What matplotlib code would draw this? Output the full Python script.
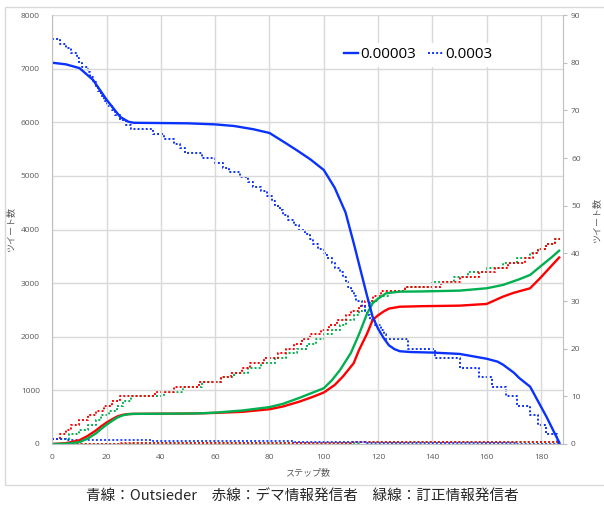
import matplotlib
matplotlib.use("Agg")
import matplotlib.pyplot as plt
from matplotlib.lines import Line2D
from matplotlib.patches import Rectangle

# ---- solid series (rate 0.00003, left axis) ----
blue_x = [0, 5, 10, 15, 20, 25, 28, 30, 40, 50, 60, 67, 74, 80, 86, 90, 95, 100, 104,
          108, 111, 114, 116, 118, 120, 122, 124, 126, 128, 132, 140, 150, 160, 164,
          166, 170, 172, 176, 182, 187]
blue_y = [7110, 7080, 7010, 6790, 6420, 6100, 6010, 5990, 5985, 5980, 5960, 5930, 5870,
          5800, 5610, 5480, 5310, 5110, 4780, 4320, 3750, 3150, 2750, 2370, 2150, 1980,
          1840, 1770, 1730, 1715, 1705, 1680, 1590, 1536, 1480, 1330, 1230, 1069, 510, 0]

red_x = [0, 5, 10, 13, 16, 18, 20, 22, 24, 26, 28, 30, 40, 50, 55, 60, 70, 80, 85, 91,
         96, 100, 104, 107, 111, 113, 116, 118, 120, 122, 124, 128, 136, 150, 160, 166,
         170, 176, 180, 184, 187]
red_y = [0, 15, 70, 150, 250, 330, 400, 460, 515, 545, 558, 562, 565, 568, 573, 580, 600,
         648, 700, 790, 880, 960, 1100, 1256, 1506, 1754, 2065, 2313, 2400, 2470, 2525,
         2560, 2570, 2580, 2612, 2748, 2820, 2904, 3110, 3330, 3494]

green_x = [0, 5, 10, 13, 16, 18, 20, 22, 24, 26, 28, 30, 40, 50, 55, 60, 70, 80, 85, 91,
           96, 100, 103, 106, 110, 113, 116, 118, 120, 123, 126, 128, 136, 150, 160, 166,
           172, 176, 180, 184, 187]
green_y = [0, 5, 35, 100, 195, 280, 360, 430, 495, 535, 555, 562, 565, 568, 573, 585,
           625, 688, 750, 860, 960, 1040, 1190, 1381, 1700, 2050, 2438, 2625, 2710, 2811,
           2830, 2841, 2845, 2860, 2904, 2966, 3072, 3153, 3320, 3485, 3619]

# ---- dotted series (rate 0.0003, right axis), values held until next change ----
bdot_x = [0, 3, 5, 7, 9, 10, 11, 13, 14, 15, 16, 17, 18, 19, 20, 22, 23, 25, 27, 29,
          37, 41, 45, 47, 49, 55, 60, 63, 65, 69, 72, 74, 77, 79, 81, 82, 84, 85, 87, 89,
          91, 93, 95, 96, 98, 100, 101, 103, 104, 106, 107, 108, 109, 110, 111, 112, 114,
          115, 116, 117, 119, 121, 122, 123, 131, 141, 150, 157, 162, 167, 171, 176, 179,
          182, 186, 187]
bdot_v = [85, 84, 83, 82, 81, 80, 79, 78, 77, 76, 75, 74, 73, 72, 71, 70, 69, 68, 67, 66,
          65, 64, 63, 62, 61, 60, 59, 58, 57, 56, 55, 54, 53, 52, 51, 50, 49, 48, 47, 46,
          45, 44, 43, 42, 41, 40, 39, 38, 37, 36, 35, 34, 33, 32, 31, 30, 29,
          28, 27, 26, 25, 24, 23, 22, 20, 18, 16, 14, 12, 10, 8, 6, 4,
          2, 0, 0]

rdot_x = [0, 3, 5, 7, 10, 13, 16, 19, 22, 25, 38, 45, 54, 62, 66, 70, 73, 78, 83, 86, 89,
          92, 95, 99, 102, 105, 108, 110, 113, 115, 118, 121, 130, 143, 150, 157, 163, 168,
          174, 177, 179, 182, 185, 187]
rdot_v = [1, 2, 3, 4, 5, 6, 7, 8, 9, 10, 11, 12, 13, 14, 15, 16, 17, 18, 19, 20, 21,
          22, 23, 24, 25, 26, 27, 28, 29, 30, 31, 32, 33, 34, 35, 36, 37, 38,
          39, 40, 41, 42, 43, 43]

gdot_x = [0, 6, 10, 13, 16, 18, 21, 24, 26, 29, 41, 48, 55, 62, 67, 72, 77, 82, 86, 90,
          94, 97, 100, 103, 106, 108, 111, 113, 115, 117, 120, 124, 130, 140, 148, 153, 160,
          166, 171, 176, 179, 182, 185, 187]
gdot_v = [1, 2, 3, 4, 5, 6, 7, 8, 9, 10, 11, 12, 13, 14, 15, 16, 17, 18, 19, 20,
          21, 22, 23, 24, 25, 26, 27, 28, 29, 30, 31, 32, 33, 34, 35, 36, 37,
          38, 39, 40, 41, 42, 43, 43]

legend_labels = ["0.00003", "0.0003"]
x_ticks = list(range(0, 181, 20))
left_ticks = list(range(0, 8001, 1000))
right_ticks = list(range(0, 91, 10))
axis_label = "ツイート数"
x_label = "ステップ数"
caption = "青線：Outsieder　赤線：デマ情報発信者　緑線：訂正情報発信者"

BLUE = "#0a32ff"
RED = "#ff0000"
GREEN = "#00b050"
GRID = "#d9d9d9"
AXIS = "#bfbfbf"
TEXT = "#595959"
NUM_FONT = ["Open Sans", "DejaVu Sans"]
JP_FONT = ["Noto Sans CJK JP", "DejaVu Sans"]

W, H = 604, 509
fig = plt.figure(figsize=(W / 100, H / 100), dpi=100)

# chart frame
fig.patches.append(Rectangle((5 / W, (H - 485) / H), 1.2, (485 - 7) / H,
                             transform=fig.transFigure, fill=False,
                             edgecolor=GRID, linewidth=1.0))

ax = fig.add_axes([52.3 / W, (H - 444) / H, (562.7 - 52.3) / W, (444 - 15) / H])
ax2 = ax.twinx()

dot = (0, (1, 1.1))

# dotted series on the right axis
for xs, vs, c in [(gdot_x, gdot_v, GREEN), (rdot_x, rdot_v, RED), (bdot_x, bdot_v, BLUE)]:
    ax2.step(xs, vs, where="post", color=c, lw=1.4, linestyle=dot)
    # the same series also sits on the left axis, hugging the baseline
    ax.step(xs, vs, where="post", color=c, lw=1.4, linestyle=dot, alpha=0.9)

# solid series on the left axis
ax.plot(red_x, red_y, color=RED, lw=1.7, solid_capstyle="butt")
ax.plot(green_x, green_y, color=GREEN, lw=1.7, solid_capstyle="butt")
ax.plot(blue_x, blue_y, color=BLUE, lw=1.7, solid_capstyle="butt")

# put the left axes (with solid lines) on top of the twin
ax.set_zorder(ax2.get_zorder() + 1)
ax.patch.set_visible(False)

ax.set_xlim(0, 188)
ax.set_ylim(0, 8000)
ax2.set_ylim(0, 90)
ax.set_xticks(x_ticks)
ax.set_yticks(left_ticks)
ax2.set_yticks(right_ticks)

ax.grid(True, color=GRID, linewidth=1.0)
ax.set_axisbelow(True)
ax2.grid(False)

for s in ["top", "right"]:
    ax.spines[s].set_visible(False)
for s in ["top", "left", "bottom"]:
    ax2.spines[s].set_visible(False)
ax.spines["left"].set_color(AXIS)
ax.spines["bottom"].set_color(AXIS)
ax2.spines["right"].set_color(AXIS)

ax.tick_params(axis="both", length=0, labelcolor=TEXT, labelsize=6)
ax.tick_params(axis="y", pad=9)
ax.tick_params(axis="x", pad=7)
ax2.tick_params(axis="y", length=3, color=AXIS, labelcolor=TEXT, labelsize=6, pad=3)
for lab in ax.get_xticklabels() + ax.get_yticklabels() + ax2.get_yticklabels():
    lab.set_fontfamily(NUM_FONT)

ax.set_ylabel(axis_label, family=JP_FONT, fontsize=6.5, color=TEXT)
ax.yaxis.set_label_coords(-37 / 510.4, 0.5)
ax2.set_ylabel(axis_label, family=JP_FONT, fontsize=6.5, color=TEXT, rotation=90,
               va="center")
ax2.yaxis.set_label_coords(1 + 34 / 510.4, 0.52)
ax.set_xlabel(x_label, family=JP_FONT, fontsize=6.5, color=TEXT, labelpad=5)

handles = [Line2D([], [], color=BLUE, lw=1.7),
           Line2D([], [], color=BLUE, lw=1.4, linestyle=dot)]
leg = fig.legend(handles, legend_labels, loc="center",
                 bbox_to_anchor=(418 / W, 1 - 55 / H), ncol=2, frameon=True,
                 prop={"family": NUM_FONT, "size": 11}, handlelength=0.95,
                 handletextpad=0.15, columnspacing=0.8, borderpad=0.3)
leg.get_frame().set_facecolor("white")
leg.get_frame().set_edgecolor("none")
leg.get_frame().set_alpha(1.0)

fig.text(0.5, 1 - 497 / H, caption, ha="center", va="center",
         family=JP_FONT, fontsize=10.5, color="#262626")

fig.savefig("out.png", dpi=100)
